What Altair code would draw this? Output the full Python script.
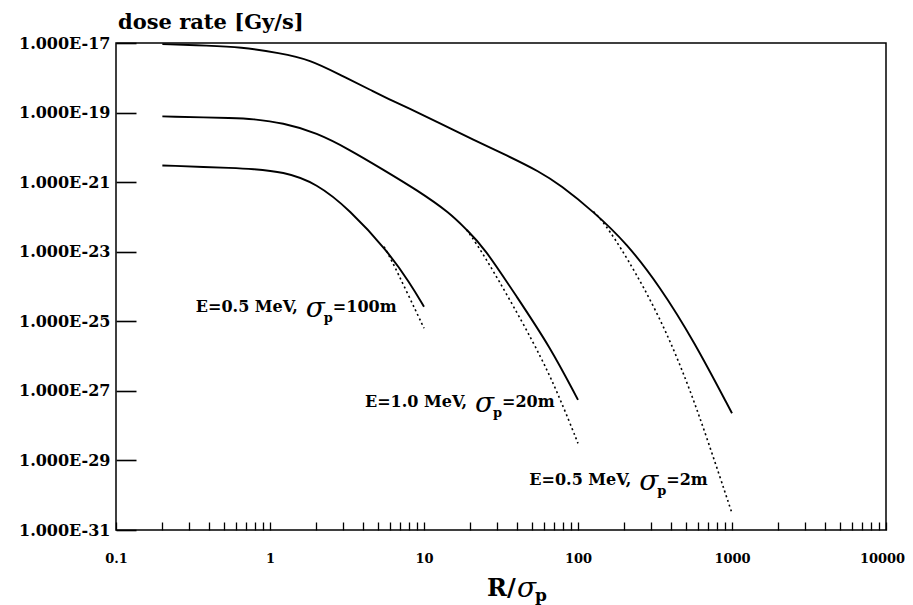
import altair as alt
import pandas as pd

# ---------------- data ----------------
# curve: E=0.5 MeV, sigma_p=2 m  (top)
top_solid_x = [0.2, 0.4, 0.638, 1.16, 1.82, 2.85, 4.69, 6.01, 7.73, 12.7, 20.9, 34.4, 56.6, 76.4, 126, 207, 340, 561, 1000]
top_solid_y = [9.3e-18, 8.36e-18, 7.67e-18, 5.15e-18, 3.31e-18, 1.22e-18, 4.06e-19, 2.34e-19, 1.42e-19, 4.93e-20,
               1.65e-20, 5.92e-21, 1.98e-21, 8.38e-22, 1.43e-22, 1.76e-23, 1.0e-24, 2.91e-26, 2.27e-28]
top_dot_x = [126, 146, 207, 340, 507, 695, 1000]
top_dot_y = [1.43e-22, 7.4e-23, 7.24e-24, 1.35e-25, 2.04e-27, 3.89e-29, 3.02e-31]

# curve: E=1.0 MeV, sigma_p=20 m  (middle)
mid_solid_x = [0.2, 0.638, 0.741, 1.22, 2.01, 3.30, 5.45, 8.97, 14.8, 18.9, 24.3, 40.0, 65.8, 100]
mid_solid_y = [7.76e-20, 6.92e-20, 6.64e-20, 5.09e-20, 2.62e-20, 8.5e-21, 2.26e-21, 6.0e-22, 1.29e-22, 4.26e-23,
               1.41e-23, 5.1e-25, 1.86e-26, 5.5e-28]
mid_dot_x = [18.9, 24.3, 53.8, 76.4, 100]
mid_dot_y = [4.26e-23, 9.1e-24, 1.86e-26, 6.17e-28, 3.09e-29]

# curve: E=0.5 MeV, sigma_p=100 m  (bottom)
bot_solid_x = [0.2, 0.638, 0.741, 1.22, 2.01, 3.30, 5.73, 8.11, 10]
bot_solid_y = [3.02e-21, 2.51e-21, 2.40e-21, 2.02e-21, 9.3e-22, 1.58e-22, 1.12e-23, 1.26e-24, 2.63e-25]
bot_dot_x = [5.5, 6.03, 7.73, 10]
bot_dot_y = [1.4e-23, 6.9e-24, 7.1e-25, 6.3e-26]

# annotations
ann_x = [0.330, 4.14, 48.3]
ann_y = [1.9e-25, 3.5e-28, 1.95e-30]
ann_lead = ["E=0.5 MeV,", "E=1.0 MeV,", "E=0.5 MeV,"]
ann_val = ["=100m", "=20m", "=2m"]

# axis tick values
x_ticks = [round(m * 10 ** d, 6) for d in range(-1, 4) for m in range(1, 10)] + [10000]
y_ticks = [1e-17, 1e-19, 1e-21, 1e-23, 1e-25, 1e-27, 1e-29, 1e-31]

# ---------------- build table ----------------
rows = []
for name, xs, ys, style in [
    ("2m", top_solid_x, top_solid_y, "solid"),
    ("2m", top_dot_x, top_dot_y, "dotted"),
    ("20m", mid_solid_x, mid_solid_y, "solid"),
    ("20m", mid_dot_x, mid_dot_y, "dotted"),
    ("100m", bot_solid_x, bot_solid_y, "solid"),
    ("100m", bot_dot_x, bot_dot_y, "dotted"),
]:
    for xv, yv in zip(xs, ys):
        rows.append({"x": xv, "y": yv, "curve": name, "style": style})
df = pd.DataFrame(rows)
ann = pd.DataFrame({"x": ann_x, "y": ann_y, "lead": ann_lead, "val": ann_val})

FONT = "DejaVu Serif"

xscale = alt.Scale(type="log", domain=[0.1, 10000], nice=False)
yscale = alt.Scale(type="log", domain=[1e-31, 1e-17], nice=False)

xaxis = alt.Axis(
    values=x_ticks, format="~g",
    labelExpr="abs(log(datum.value)/LN10 - round(log(datum.value)/LN10)) < 0.001 ? datum.label : ''",
    grid=False, domain=False, tickSize=8, tickWidth=1.3, tickColor="black", offset=-8,
    labelPadding=22, labelFont=FONT, labelFontWeight="bold", labelFontSize=13, labelColor="black",
    labelOffset={"condition": {"test": "datum.value >= 10000", "value": -4}, "value": 0},
    labelFlush=False, labelOverlap=False, labelBound=False, title=None,
)
yaxis = alt.Axis(
    values=y_ticks,
    labelExpr="'1.000E-' + round(-log(datum.value)/LN10)",
    grid=False, domain=False, tickSize=20, tickWidth=1.6, tickColor="black", offset=-20,
    labelPadding=6, labelFont=FONT, labelFontWeight="bold", labelFontSize=16, labelColor="black",
    labelFlush=False, labelOverlap=False, labelBound=False, title=None,
)

base = alt.Chart(df)
dotted = base.transform_filter(alt.datum.style == "dotted").mark_line(
    color="black", strokeWidth=1.6, strokeDash=[2, 3], interpolate="basis", clip=True
).encode(
    x=alt.X("x:Q", scale=xscale, axis=xaxis),
    y=alt.Y("y:Q", scale=yscale, axis=yaxis),
    detail="curve:N",
)
solid = base.transform_filter(alt.datum.style == "solid").mark_line(
    color="black", strokeWidth=1.9, interpolate="basis", clip=True
).encode(x="x:Q", y="y:Q", detail="curve:N")

ann_base = alt.Chart(ann).encode(x="x:Q", y="y:Q")
lead_t = ann_base.mark_text(align="left", baseline="alphabetic", font=FONT, fontWeight="bold",
                            fontSize=16, color="black").encode(text="lead:N")
sig_t = ann_base.mark_text(align="left", baseline="alphabetic", font=FONT, fontStyle="italic",
                           fontSize=28, color="black", dx=110, dy=5, text="σ")
p_t = ann_base.mark_text(align="left", baseline="alphabetic", font=FONT, fontWeight="bold",
                         fontSize=13, color="black", dx=128, dy=10, text="p")
val_t = ann_base.mark_text(align="left", baseline="alphabetic", font=FONT, fontWeight="bold",
                           fontSize=16, color="black", dx=137).encode(text="val:N")


def label(txt, px, py, size, style="normal", weight="bold"):
    return alt.Chart(alt.Data(values=[{"t": txt}])).mark_text(
        align="left", baseline="alphabetic", font=FONT, fontSize=size, fontStyle=style,
        fontWeight=weight, color="black"
    ).encode(x=alt.value(px), y=alt.value(py), text="t:N")


title_t = label("dose rate [Gy/s]", 2, -14, 21)
xt1 = label("R/", 371, 553, 24)
xt2 = label("σ", 401, 554, 28, style="italic", weight="normal")
xt3 = label("p", 419, 558, 17)

chart = alt.layer(
    dotted, solid, lead_t, sig_t, p_t, val_t, title_t, xt1, xt2, xt3
).properties(
    width=770, height=487,
    autosize=alt.AutoSizeParams(type="none"),
    padding={"left": 108, "top": 35, "right": 19, "bottom": 80},
).configure(background="white").configure_view(stroke="black", strokeWidth=1.5)

chart.save("out.html", embed_options={"renderer": "svg", "actions": False})
